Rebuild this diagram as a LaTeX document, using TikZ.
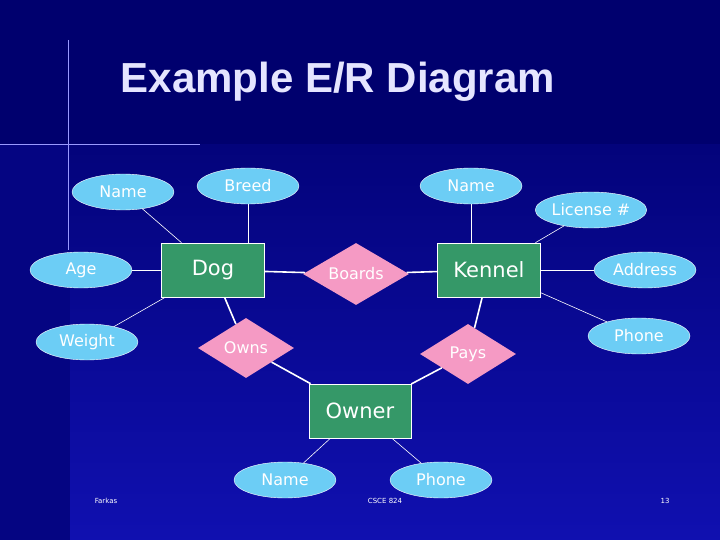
\documentclass[tikz,border=0pt]{standalone}
\usepackage{fontspec}
\setmainfont{DejaVu Sans}
\newfontfamily\titlefont{Liberation Sans}
\usetikzlibrary{shapes.geometric}
\definecolor{bgdark}{HTML}{00006E}
\definecolor{bglight}{HTML}{1010B0}
\definecolor{attr}{HTML}{6CCDF5}
\definecolor{ent}{HTML}{359868}
\definecolor{rel}{HTML}{F59AC4}
\begin{document}
\begin{tikzpicture}[x=1pt,y=-1pt,
  attr/.style={ellipse,fill=attr,draw=white,line width=0.4pt,minimum width=102pt,minimum height=36pt,inner sep=0pt,text=white,font=\fontsize{16}{16}\selectfont},
  ent/.style={rectangle,fill=ent,draw=white,line width=0.6pt,minimum width=103pt,minimum height=54pt,inner sep=0pt,text=white,font=\fontsize{21}{21}\selectfont},
  rel/.style={diamond,fill=rel,aspect=1.7,inner sep=0pt,text=white,font=\fontsize{16}{16}\selectfont},
  thin/.style={draw=white,line width=0.6pt},
  thick/.style={draw=white,line width=1.6pt},
  foot/.style={text=white,font=\fontsize{7}{7}\selectfont}]
\useasboundingbox (0,0) rectangle (720,540);
\fill[bgdark] (0,0) rectangle (720,540);
\shade[top color=bgdark!80!bglight,bottom color=bglight] (70,145) rectangle (720,540);
\fill[bgdark!70!bglight] (0,145) rectangle (70,540);
\draw[white!60!blue,line width=1pt] (68,40) -- (68,250);
\draw[white!60!blue,line width=1pt] (0,145) -- (200,145);
\node[text=white!90!blue,font=\titlefont\bfseries\fontsize{42}{42}\selectfont] (title) at (338,82) {Example E/R Diagram};
\node[ent,minimum width=103pt] (dog) at (213,270) {Dog};
\node[ent] (kennel) at (489,270) {Kennel};
\node[ent,minimum width=102pt] (owner) at (360,411) {Owner};
\node[attr] (dname) at (123,192) {Name};
\node[attr] (breed) at (248,186) {Breed};
\node[attr] (age) at (81,270) {Age};
\node[attr] (weight) at (87,342) {Weight};
\node[attr] (kname) at (471,186) {Name};
\node[attr] (lic) at (591,210) {License \#};
\node[attr] (addr) at (645,270) {Address};
\node[attr] (kphone) at (639,336) {Phone};
\node[attr] (oname) at (285,480) {Name};
\node[attr] (ophone) at (441,480) {Phone};
\node[rel,minimum width=106pt,minimum height=62pt] (boards) at (356,274) {Boards};
\node[rel,minimum width=96pt,minimum height=60pt] (owns) at (246,348) {Owns};
\node[rel,minimum width=96pt,minimum height=60pt] (pays) at (468,354) {Pays};
\draw[thin] (dname) -- (dog);
\draw[thin] (breed) -- (dog.north -| breed);
\draw[thin] (age) -- (dog);
\draw[thin] (weight) -- (dog);
\draw[thick] (dog) -- (boards);
\draw[thick] (boards) -- (kennel);
\draw[thick] (dog) -- (owns);
\draw[thick] (owns) -- (owner);
\draw[thick] (kennel) -- (pays);
\draw[thick] (pays) -- (owner);
\draw[thin] (kname) -- (kennel.north -| kname);
\draw[thin] (lic) -- (kennel);
\draw[thin] (addr) -- (kennel);
\draw[thin] (kphone) -- (kennel);
\draw[thin] (oname) -- (owner);
\draw[thin] (ophone) -- (owner);
\node[foot] (f1) at (106,501) {Farkas};
\node[foot] (f2) at (385,501) {CSCE 824};
\node[foot] (f3) at (665,501) {13};
\end{tikzpicture}
\end{document}
